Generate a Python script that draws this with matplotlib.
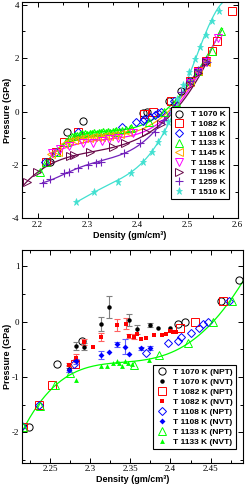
import numpy as np
import matplotlib
matplotlib.use('Agg')
import matplotlib.pyplot as plt
from matplotlib.ticker import MultipleLocator

plt.rcParams['axes.unicode_minus'] = False

# ---- NPT isotherms (top panel, also used in bottom) ----
t1070_x = [2.224, 2.258, 2.290, 2.410, 2.418, 2.463, 2.486, 2.505, 2.521, 2.537]
t1070_y = [-1.90, -0.77, -0.35, -0.04, 0.00, 0.38, 0.76, 1.14, 1.53, 1.88]

t1082_x = [2.216, 2.236, 2.252, 2.281, 2.412, 2.431, 2.466, 2.505, 2.521, 2.537, 2.548, 2.559, 2.588]
t1082_y = [-1.90, -1.51, -1.14, -0.76, -0.11, 0.00, 0.38, 1.14, 1.53, 1.88, 2.27, 2.64, 3.76]

t1108_x = [2.215, 2.236, 2.280, 2.369, 2.397, 2.410, 2.413, 2.425, 2.435, 2.441, 2.447, 2.473, 2.505, 2.521, 2.537]
t1108_y = [-1.88, -1.51, -0.76, -0.57, -0.39, -0.35, -0.27, -0.20, -0.12, -0.04, 0.00, 0.38, 1.14, 1.53, 1.88]

t1133_x = [2.205, 2.216, 2.237, 2.256, 2.275, 2.355, 2.386, 2.422, 2.453, 2.477, 2.505, 2.521, 2.548, 2.567]
t1133_y = [-2.25, -1.90, -1.52, -1.14, -0.93, -0.78, -0.60, -0.39, -0.01, 0.37, 1.14, 1.53, 2.27, 3.00]
t1133_dense_x = [2.262, 2.268, 2.273, 2.279, 2.284, 2.289, 2.294, 2.299, 2.304, 2.309, 2.313, 2.318,
                 2.322, 2.327, 2.331, 2.336, 2.340, 2.345, 2.350, 2.356, 2.362, 2.369, 2.377, 2.385]
t1133_dense_y = [-0.98, -0.93, -0.90, -0.86, -0.84, -0.82, -0.80, -0.83, -0.79, -0.81, -0.77, -0.80,
                 -0.76, -0.78, -0.74, -0.77, -0.72, -0.75, -0.73, -0.70, -0.74, -0.69, -0.66, -0.62]

t1145_x = [2.226, 2.240, 2.252, 2.262, 2.272, 2.283, 2.293, 2.302, 2.310, 2.318, 2.326, 2.334,
           2.343, 2.352, 2.365, 2.380, 2.505, 2.521, 2.537]
t1145_y = [-1.58, -1.50, -1.22, -1.12, -1.07, -1.03, -1.00, -0.99, -0.97, -0.95, -0.94, -0.92,
           -0.90, -0.88, -0.83, -0.76, 1.10, 1.50, 1.86]

t1158_x = [2.228, 2.245, 2.262, 2.290, 2.310, 2.328, 2.343, 2.360, 2.390, 2.505, 2.521, 2.537, 2.560]
t1158_y = [-1.55, -1.42, -1.28, -1.17, -1.16, -1.10, -1.04, -0.98, -0.82, 1.05, 1.48, 1.86, 2.75]

t1196_x = [2.179, 2.199, 2.225, 2.265, 2.272, 2.305, 2.350, 2.374, 2.416, 2.446, 2.505, 2.521, 2.537]
t1196_y = [-2.62, -2.25, -1.90, -1.66, -1.63, -1.50, -1.32, -1.17, -0.76, -0.47, 1.00, 1.45, 1.85]

t1259_x = [2.210, 2.225, 2.253, 2.263, 2.281, 2.301, 2.316, 2.326, 2.372, 2.405, 2.434, 2.453,
           2.470, 2.486, 2.505, 2.521, 2.538]
t1259_y = [-2.66, -2.53, -2.29, -2.26, -2.10, -2.00, -1.94, -1.90, -1.54, -1.17, -0.76, -0.32,
           0.15, 0.72, 1.14, 1.54, 1.84]

t1510_x = [2.277, 2.312, 2.360, 2.386, 2.410, 2.428, 2.441, 2.453, 2.460, 2.468, 2.478, 2.490,
           2.502, 2.514, 2.525, 2.536, 2.548, 2.563]
t1510_y = [-3.40, -3.03, -2.63, -2.29, -1.88, -1.50, -1.13, -0.76, -0.39, -0.01, 0.47, 0.98,
           1.48, 1.98, 2.41, 2.87, 3.38, 3.78]

# ---- fitted equation-of-state curves ----
fit1133_x = [2.205, 2.215, 2.2376, 2.256, 2.275, 2.312, 2.349, 2.399, 2.420, 2.4526, 2.473, 2.486, 2.52, 2.57]
fit1133_y = [-2.30, -1.98, -1.50, -1.14, -0.93, -0.80, -0.72, -0.57, -0.42, 0.00, 0.36, 0.63, 1.50, 3.10]
fit1145_x = [2.228, 2.24, 2.25, 2.27, 2.30, 2.35, 2.40, 2.45, 2.50, 2.545]
fit1145_y = [-1.60, -1.42, -1.28, -1.12, -1.00, -0.90, -0.70, -0.22, 0.85, 2.20]
fit1158_x = [2.228, 2.26, 2.30, 2.35, 2.40, 2.45, 2.50, 2.565]
fit1158_y = [-1.57, -1.32, -1.14, -1.02, -0.82, -0.35, 0.75, 3.00]
fit1196_x = [2.17, 2.20, 2.23, 2.26, 2.30, 2.35, 2.40, 2.45, 2.50, 2.54]
fit1196_y = [-2.80, -2.28, -1.92, -1.72, -1.55, -1.35, -1.00, -0.45, 0.65, 1.90]
fit1259_x = [2.21, 2.25, 2.30, 2.35, 2.40, 2.45, 2.50, 2.54]
fit1259_y = [-2.67, -2.35, -2.02, -1.72, -1.25, -0.45, 1.00, 1.92]
fit1510_x = [2.277, 2.31, 2.36, 2.40, 2.43, 2.45, 2.47, 2.49, 2.51, 2.53, 2.55, 2.57]
fit1510_y = [-3.40, -3.05, -2.60, -2.03, -1.45, -0.92, -0.20, 0.75, 1.75, 2.65, 3.45, 4.10]

# ---- NVT runs (bottom panel) ----
nvt1070_x = [2.273, 2.282, 2.292, 2.313, 2.323, 2.348, 2.358, 2.374, 2.385, 2.399]
nvt1070_y = [-0.85, -0.44, -0.45, -0.04, 0.26, 0.03, -0.14, -0.06, -0.11, -0.11]
nvt1070_e = [0.06, 0.08, 0.06, 0.12, 0.20, 0.10, 0.08, 0.03, 0.0, 0.0]

nvt1082_x = [2.273, 2.282, 2.292, 2.303, 2.313, 2.3335, 2.344, 2.348, 2.354, 2.358, 2.363, 2.369,
             2.379, 2.389, 2.394, 2.400, 2.403, 2.407]
nvt1082_y = [-0.78, -0.66, -0.37, -0.46, -0.28, -0.06, -0.04, -0.26, -0.27, -0.23, -0.32, -0.30,
             -0.25, -0.24, -0.23, -0.17, -0.19, -0.19]
nvt1082_e = [0.03, 0.07, 0.05, 0, 0.07, 0.10, 0.10, 0.03, 0.05, 0, 0, 0, 0, 0, 0, 0, 0, 0]

nvt1108_x = [2.273, 2.282, 2.313, 2.323, 2.3335, 2.3435, 2.348, 2.363, 2.374]
nvt1108_y = [-0.87, -0.72, -0.60, -0.545, -0.41, -0.45, -0.58, -0.485, -0.48]
nvt1108_e = [0.04, 0.04, 0.07, 0, 0.04, 0.13, 0, 0.03, 0.04]

nvt1133_x = [2.282, 2.314, 2.321, 2.329, 2.3335, 2.336, 2.339, 2.343, 2.347, 2.352, 2.373]
nvt1133_y = [-1.06, -0.81, -0.80, -0.74, -0.72, -0.74, -0.80, -0.71, -0.74, -0.76, -0.69]

GREEN = '#00ff00'
ORANGE = '#ffa500'
MAGENTA = '#ff00ff'
MAROON = '#670748'
INDIGO = '#7221bc'
TURQ = '#40e0d0'

labfont = dict(family='Liberation Sans', size=6.5, weight='bold')


def fitline(ax, xs, ys, color, xr=None, deg=5):
    # smooth curve through the read-off points
    xs = np.asarray(xs)
    p = np.polyfit(xs, ys, deg)
    lo, hi = xr if xr else (xs.min(), xs.max())
    xx = np.linspace(lo, hi, 300)
    ax.plot(xx, np.polyval(p, xx), color=color, lw=0.9, zorder=2)


def style(ax):
    ax.tick_params(which='both', direction='in', top=True, right=True, width=0.7)
    ax.tick_params(which='major', length=3.5, pad=2)
    ax.tick_params(which='minor', length=2)
    for s in ax.spines.values():
        s.set_linewidth(0.8)
    for t in ax.get_xticklabels() + ax.get_yticklabels():
        t.set_fontfamily('Liberation Serif')
        t.set_fontsize(6.5)
    ax.set_xlabel('Density (gm/cm³)', fontdict=labfont, labelpad=1)
    ax.set_ylabel('Pressure (GPa)', fontdict=labfont, labelpad=0)


fig = plt.figure(figsize=(2.45, 4.9), dpi=100)
ax1 = fig.add_axes([22/245, 1 - 218.4/490, 215.5/245, 216.4/490])
ax2 = fig.add_axes([22/245, 1 - 462.7/490, 220.7/245, 212.4/490])

ms = 5.2
op = dict(ls='none', mfc='none', ms=ms, mew=0.7)

# ---------------- top panel ----------------
fitline(ax1, fit1133_x, fit1133_y, GREEN)
fitline(ax1, fit1145_x, fit1145_y, ORANGE)
fitline(ax1, fit1158_x, fit1158_y, MAGENTA)
fitline(ax1, fit1196_x, fit1196_y, MAROON)
fitline(ax1, fit1259_x, fit1259_y, INDIGO)
fitline(ax1, fit1510_x, fit1510_y, TURQ)

ax1.plot(t1070_x, t1070_y, marker='o', mec='black', label='T 1070 K', **op)
ax1.plot(t1082_x, t1082_y, marker='s', mec='red', label='T 1082 K', **op)
ax1.plot(t1108_x, t1108_y, marker='D', mec='blue', label='T 1108 K', ls='none', mfc='none', ms=4.3, mew=0.7)
ax1.plot(t1133_x, t1133_y, marker='^', mec=GREEN, label='T 1133 K', **op)
ax1.plot(t1133_dense_x, t1133_dense_y, marker='^', mec=GREEN, ls='none', mfc='none', ms=4, mew=0.8)
ax1.plot(t1145_x, t1145_y, marker='<', mec=ORANGE, label='T 1145 K', **op)
ax1.plot(t1158_x, t1158_y, marker='v', mec=MAGENTA, label='T 1158 K', **op)
ax1.plot(t1196_x, t1196_y, marker='>', mec=MAROON, label='T 1196 K', **op)
ax1.plot(t1259_x, t1259_y, marker='+', mec=INDIGO, label='T 1259 K', ls='none', ms=ms, mew=0.8)
ax1.plot(t1510_x, t1510_y, marker='*', mec=TURQ, mfc=TURQ, label='T 1510 K', ls='none', ms=ms, mew=0.5)

ax1.set_xlim(2.169, 2.6)
ax1.set_ylim(-4, 4.1)
ax1.xaxis.set_major_locator(MultipleLocator(0.1))
ax1.xaxis.set_minor_locator(MultipleLocator(0.05))
ax1.yaxis.set_major_locator(MultipleLocator(2))
ax1.yaxis.set_minor_locator(MultipleLocator(1))
style(ax1)
leg1 = ax1.legend(loc='lower right', bbox_to_anchor=(0.98, 0.07), fancybox=False, edgecolor='black',
                  prop=dict(family='Liberation Sans', size=6, weight='bold'), handlelength=1.2,
                  handletextpad=0.8, labelspacing=0.22, borderpad=0.4, framealpha=1)
leg1.get_frame().set_linewidth(0.8)

# ---------------- bottom panel ----------------
fitline(ax2, fit1133_x, fit1133_y, GREEN)


def nvt(ax, xs, ys, es, color, ecolor, marker, label, msz):
    xs, ys, es = map(np.asarray, (xs, ys, es))
    m = es > 0
    ax.errorbar(xs[m], ys[m], yerr=es[m], fmt='none', ecolor=ecolor, elinewidth=0.8,
                capsize=2.2, capthick=0.8, zorder=3)
    ax.plot(xs, ys, marker=marker, ls='none', color=color, ms=msz, mew=0, label=label, zorder=4)


ax2.plot(t1070_x, t1070_y, marker='o', mec='black', label='T 1070 K (NPT)', **op)
nvt(ax2, nvt1070_x, nvt1070_y, nvt1070_e, 'black', 'gray', 'o', 'T 1070 K (NVT)', 3.2)
ax2.plot(t1082_x, t1082_y, marker='s', mec='red', label='T 1082 K (NPT)', **op)
nvt(ax2, nvt1082_x, nvt1082_y, nvt1082_e, 'red', '#ff6060', 's', 'T 1082 K (NVT)', 3.2)
ax2.plot(t1108_x, t1108_y, marker='D', mec='blue', label='T 1108 K (NPT)', ls='none', mfc='none', ms=4.3, mew=0.7)
nvt(ax2, nvt1108_x, nvt1108_y, nvt1108_e, 'blue', '#6060ff', 'D', 'T 1108 K (NVT)', 3.0)
ax2.plot(t1133_x, t1133_y, marker='^', mec=GREEN, label='T 1133 K (NPT)', **op)
ax2.plot(nvt1133_x, nvt1133_y, marker='^', ls='none', color=GREEN, ms=3.5, mew=0, label='T 1133 K (NVT)', zorder=4)

ax2.set_xlim(2.215, 2.49)
ax2.set_ylim(-2.55, 1.29)
ax2.xaxis.set_major_locator(MultipleLocator(0.05))
ax2.xaxis.set_minor_locator(MultipleLocator(0.025))
ax2.yaxis.set_major_locator(MultipleLocator(1))
ax2.yaxis.set_minor_locator(MultipleLocator(0.5))
ax2.set_xticks([2.25, 2.3, 2.35, 2.4, 2.45])
ax2.set_xticklabels(['2.25', '2.3', '2.35', '2.4', '2.45'])
style(ax2)
leg2 = ax2.legend(loc='lower right', bbox_to_anchor=(0.99, 0.045), fancybox=False, edgecolor='black',
                  prop=dict(family='Liberation Sans', size=6, weight='bold'), handlelength=1.2,
                  handletextpad=0.8, labelspacing=0.25, borderpad=0.4, framealpha=1)
leg2.get_frame().set_linewidth(0.8)

fig.savefig('out.png', dpi=100)
